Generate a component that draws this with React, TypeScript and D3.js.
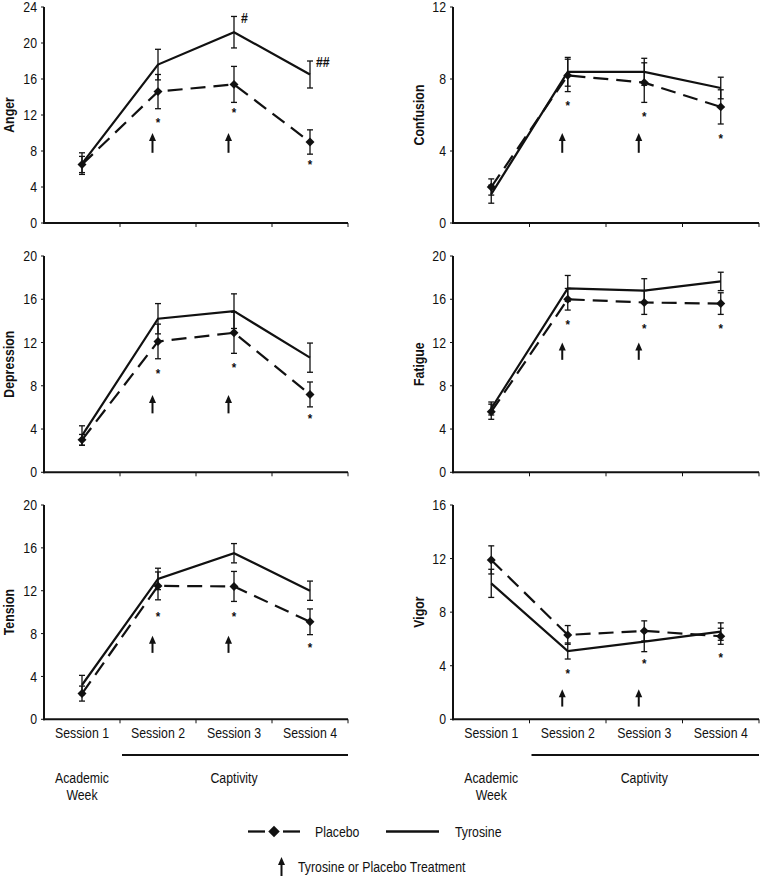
import React from "react";
import * as d3 from "d3";

// ---------- data ----------
const sessions = ["Session 1", "Session 2", "Session 3", "Session 4"];

const angerTyrosine = [6.6, 17.6, 21.2, 16.5];
const angerTyrosineErr = [1.2, 1.7, 1.75, 1.5];
const angerPlacebo = [6.5, 14.6, 15.4, 9.0];
const angerPlaceboErr = [0.9, 1.9, 2.0, 1.35];
const angerStars = [null, 11.3, 12.4, 6.7];
const angerMarks = [null, null, "#", "##"];

const confusionTyrosine = [1.6, 8.4, 8.4, 7.5];
const confusionTyrosineErr = [0.5, 0.8, 0.75, 0.6];
const confusionPlacebo = [2.0, 8.2, 7.8, 6.45];
const confusionPlaceboErr = [0.45, 0.9, 1.1, 0.95];
const confusionStars = [null, 6.6, 6.0, 4.8];

const depressionTyrosine = [3.4, 14.2, 14.9, 10.6];
const depressionTyrosineErr = [0.9, 1.4, 1.6, 1.35];
const depressionPlacebo = [3.0, 12.1, 12.9, 7.2];
const depressionPlaceboErr = [0.5, 1.6, 1.9, 1.15];
const depressionStars = [null, 9.3, 9.8, 5.15];

const fatigueTyrosine = [5.9, 17.0, 16.8, 17.65];
const fatigueTyrosineErr = [0.6, 1.2, 1.1, 0.85];
const fatiguePlacebo = [5.6, 16.0, 15.7, 15.6];
const fatiguePlaceboErr = [0.7, 1.0, 1.1, 1.0];
const fatigueStars = [null, 13.85, 13.4, 13.4];

const tensionTyrosine = [3.2, 13.1, 15.5, 12.0];
const tensionTyrosineErr = [0.9, 1.0, 0.9, 0.9];
const tensionPlacebo = [2.4, 12.45, 12.4, 9.1];
const tensionPlaceboErr = [0.7, 1.3, 1.4, 1.2];
const tensionStars = [null, 9.75, 9.75, 6.8];

const vigorTyrosine = [10.15, 5.1, 5.8, 6.55];
const vigorTyrosineErr = [1.05, 0.6, 0.75, 0.65];
const vigorPlacebo = [11.9, 6.3, 6.6, 6.2];
const vigorPlaceboErr = [1.05, 0.7, 0.75, 0.6];
const vigorStars = [null, 3.55, 4.3, 4.75];

// treatment arrows (at sessions 2 and 3): [bottom, top] in each panel's units
const angerArrows = [7.8, 10.0];
const confusionArrows = [3.9, 5.0];
const depressionArrows = [5.45, 7.15];
const fatigueArrows = [10.4, 12.0];
const tensionArrows = [6.2, 7.8];
const vigorArrows = [0.95, 2.25];
const arrowSessions = [1, 2];

const panels = [
  { label: "Anger", col: 0, row: 0, max: 24, tyr: angerTyrosine, tyrErr: angerTyrosineErr, plac: angerPlacebo, placErr: angerPlaceboErr, stars: angerStars, arrows: angerArrows, marks: angerMarks },
  { label: "Confusion", col: 1, row: 0, max: 12, tyr: confusionTyrosine, tyrErr: confusionTyrosineErr, plac: confusionPlacebo, placErr: confusionPlaceboErr, stars: confusionStars, arrows: confusionArrows, marks: null },
  { label: "Depression", col: 0, row: 1, max: 20, tyr: depressionTyrosine, tyrErr: depressionTyrosineErr, plac: depressionPlacebo, placErr: depressionPlaceboErr, stars: depressionStars, arrows: depressionArrows, marks: null },
  { label: "Fatigue", col: 1, row: 1, max: 20, tyr: fatigueTyrosine, tyrErr: fatigueTyrosineErr, plac: fatiguePlacebo, placErr: fatiguePlaceboErr, stars: fatigueStars, arrows: fatigueArrows, marks: null },
  { label: "Tension", col: 0, row: 2, max: 20, tyr: tensionTyrosine, tyrErr: tensionTyrosineErr, plac: tensionPlacebo, placErr: tensionPlaceboErr, stars: tensionStars, arrows: tensionArrows, marks: null },
  { label: "Vigor", col: 1, row: 2, max: 16, tyr: vigorTyrosine, tyrErr: vigorTyrosineErr, plac: vigorPlacebo, placErr: vigorPlaceboErr, stars: vigorStars, arrows: vigorArrows, marks: null },
];

// ---------- layout ----------
const W = 761;
const H = 876;
const colX = [44, 453];
const colW = [304, 306];
const rowTop = [7, 256, 505];
const rowBottom = [223, 472.3, 719.3];
const FONT = "'Liberation Sans', Arial, Helvetica, sans-serif";
const FS = 12.3;
const STRETCH = 1.15;
const INK = "#111";

// text drawn slightly tall-and-narrow like the original figure's font
function T({ x, y, anchor = "start", bold = false, rotate = 0, dy, size = FS, children }: any) {
  return (
    <text
      transform={`translate(${x},${y}) rotate(${rotate}) scale(1,${STRETCH})`}
      dy={dy}
      textAnchor={anchor}
      fontSize={size}
      fontWeight={bold ? "bold" : "normal"}
      fontFamily={FONT}
      fill={INK}
    >
      {children}
    </text>
  );
}

function Arrow({ x, yBottom, yTop }: { x: number; yBottom: number; yTop: number }) {
  return (
    <g>
      <line x1={x} x2={x} y1={yBottom} y2={yTop + 5} stroke={INK} strokeWidth={2} />
      <path d={`M${x},${yTop} L${x - 3.5},${yTop + 8} L${x + 3.5},${yTop + 8} Z`} fill={INK} />
    </g>
  );
}

function Panel({ p }: { p: any }) {
  const x0 = colX[p.col];
  const w = colW[p.col];
  const top = rowTop[p.row];
  const bottom = rowBottom[p.row];
  const x = d3.scaleBand<string>().domain(sessions).range([x0, x0 + w]);
  const y = d3.scaleLinear().domain([0, p.max]).range([bottom, top]);
  const cx = (i: number) => (x(sessions[i]) as number) + x.bandwidth() / 2;
  const line = d3
    .line<number>()
    .x((_, i) => cx(i))
    .y((d) => y(d));
  const ticks = d3.range(0, p.max + 0.001, 4);
  const diamond = d3.symbol().type(d3.symbolSquare).size(40)();
  const labelX = p.col === 0 ? 13.5 : 423.5;
  const mid = (top + bottom) / 2;

  const errBar = (v: number, e: number, i: number, key: string) => {
    const xx = cx(i);
    return (
      <g key={key} stroke={INK} strokeWidth={1.3}>
        <line x1={xx} x2={xx} y1={y(v - e)} y2={y(v + e)} />
        <line x1={xx - 3} x2={xx + 3} y1={y(v - e)} y2={y(v - e)} />
        <line x1={xx - 3} x2={xx + 3} y1={y(v + e)} y2={y(v + e)} />
      </g>
    );
  };

  return (
    <g>
      {/* error bars */}
      {p.tyr.map((v: number, i: number) => errBar(v, p.tyrErr[i], i, "t" + i))}
      {p.plac.map((v: number, i: number) => errBar(v, p.placErr[i], i, "p" + i))}
      {/* lines */}
      <path d={line(p.tyr) as string} fill="none" stroke={INK} strokeWidth={2.2} />
      <path d={line(p.plac) as string} fill="none" stroke={INK} strokeWidth={2.2} strokeDasharray="15,8" />
      {p.plac.map((v: number, i: number) => (
        <path key={"d" + i} d={diamond as string} transform={`translate(${cx(i)},${y(v)}) rotate(45)`} fill={INK} />
      ))}
      {/* significance stars */}
      {p.stars.map((v: number | null, i: number) =>
        v == null ? null : (
          <T key={"s" + i} x={cx(i)} y={y(v) + 6} anchor="middle" bold size={11.5}>
            *
          </T>
        )
      )}
      {p.marks &&
        p.marks.map((m: string | null, i: number) =>
          m == null ? null : (
            <T key={"m" + i} x={cx(i) + (m.length > 1 ? 6 : 7)} y={y(p.tyr[i] + p.tyrErr[i]) + (m.length > 1 ? 5.5 : 7)} bold>
              {m}
            </T>
          )
        )}
      {/* treatment arrows */}
      {arrowSessions.map((i) => (
        <Arrow key={"a" + i} x={cx(i) - 5.5} yBottom={y(p.arrows[0])} yTop={y(p.arrows[1])} />
      ))}
      {/* axes */}
      <line x1={x0} x2={x0} y1={y(0) + 1} y2={y(p.max)} stroke={INK} strokeWidth={2} />
      <line x1={x0 - 1} x2={x0 + w} y1={y(0)} y2={y(0)} stroke={INK} strokeWidth={2} />
      {ticks.map((t) => (
        <g key={"yt" + t}>
          <line x1={x0 - 3} x2={x0} y1={y(t)} y2={y(t)} stroke={INK} strokeWidth={1} />
          <T x={x0 - 7} y={y(t)} dy="0.36em" anchor="end">
            {t}
          </T>
        </g>
      ))}
      {d3.range(1, sessions.length + 1).map((k) => (
        <line key={"xt" + k} x1={x0 + k * x.bandwidth()} x2={x0 + k * x.bandwidth()} y1={y(0)} y2={y(0) + 4} stroke={INK} strokeWidth={1} />
      ))}
      <T x={labelX} y={mid} rotate={-90} anchor="middle" bold>
        {p.label}
      </T>
      {p.row === 2 && (
        <g>
          {sessions.map((s, i) => (
            <T key={s} x={cx(i)} y={738} anchor="middle">
              {s}
            </T>
          ))}
          <line x1={x0 + x.bandwidth() + 2} x2={x0 + w} y1={755} y2={755} stroke={INK} strokeWidth={2} />
          <T x={cx(0)} y={782.5} anchor="middle">Academic</T>
          <T x={cx(0)} y={800} anchor="middle">Week</T>
          <T x={(x0 + x.bandwidth() + x0 + w) / 2} y={782.5} anchor="middle">Captivity</T>
        </g>
      )}
    </g>
  );
}

export default function App() {
  const legendDiamond = d3.symbol().type(d3.symbolSquare).size(66)();
  return (
    <svg width={W} height={H} style={{ position: "absolute", left: 0, top: 0, background: "#fff" }}>
      <rect width={W} height={H} fill="#fff" />
      {panels.map((p) => (
        <Panel key={p.label} p={p} />
      ))}
      {/* legend */}
      <line x1={248} x2={265} y1={831.5} y2={831.5} stroke={INK} strokeWidth={2.3} />
      <line x1={283} x2={300} y1={831.5} y2={831.5} stroke={INK} strokeWidth={2.3} />
      <path d={legendDiamond as string} transform="translate(274,831.5) rotate(45)" fill={INK} />
      <T x={315} y={836.5}>Placebo</T>
      <line x1={386} x2={439} y1={831.5} y2={831.5} stroke={INK} strokeWidth={2.3} />
      <T x={455} y={836.5}>Tyrosine</T>
      <Arrow x={281.5} yBottom={876} yTop={857} />
      <T x={298} y={872}>Tyrosine or Placebo Treatment</T>
    </svg>
  );
}
